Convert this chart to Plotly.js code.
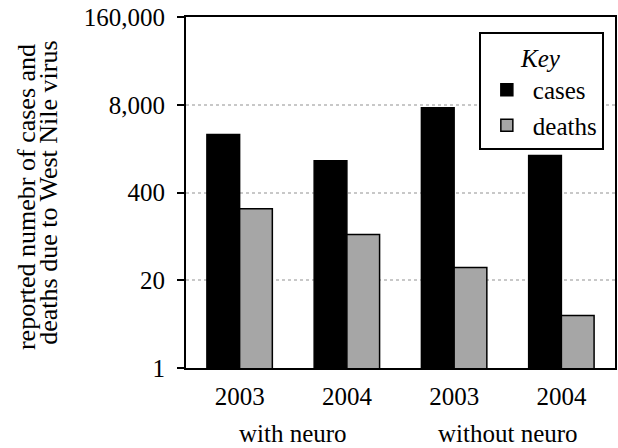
<!DOCTYPE html>
<html>
<head>
<meta charset="utf-8">
<script src="https://cdn.plot.ly/plotly-3.0.1.min.js"></script>
<style>
html,body{margin:0;padding:0;background:#fff}
#chart{width:618px;height:448px;position:absolute;left:0;top:0}
</style>
</head>
<body>
<div id="chart"></div>
<script>
const groups = ["with neuro", "with neuro", "without neuro", "without neuro"];
const years = ["2003", "2004", "2003", "2004"];
const cases = [2900, 1180, 7200, 1410];
const deaths = [230, 95, 31, 6];
const tickVals = [1, 20, 400, 8000, 160000];
const tickText = ["1", "20", "400", "8,000", "160,000"];
const yTitleLines = ["reported numebr of cases and", "deaths due to West Nile virus"];

const FONT = "Liberation Serif";
const FS = 25;

const idx = years.map((_, i) => i);

const traces = [
  {type: "bar", name: "cases", x: idx, y: cases,
   marker: {color: "#000000", line: {color: "#000000", width: 1.5}}},
  {type: "bar", name: "deaths", x: idx, y: deaths,
   marker: {color: "#a6a6a6", line: {color: "#000000", width: 1.5}}}
];

// group labels centred under their categories
const groupNames = [...new Set(groups)];
const groupAnns = groupNames.map(g => {
  const ii = idx.filter(i => groups[i] === g);
  const cx = ii.reduce((a, b) => a + b, 0) / ii.length;
  return {text: g, xref: "x", yref: "paper", x: cx, y: -0.188,
          showarrow: false, xanchor: "center", yanchor: "middle",
          font: {family: FONT, size: FS, color: "#000"}};
});

const layout = {
  width: 618, height: 448,
  margin: {l: 186, r: 3, t: 17, b: 80},
  paper_bgcolor: "#ffffff", plot_bgcolor: "#ffffff",
  font: {family: FONT, size: FS, color: "#000"},
  barmode: "group", bargap: 0.39, bargroupgap: 0,
  showlegend: true,
  legend: {
    x: 0.974, xanchor: "right", y: 0.956, yanchor: "top",
    bgcolor: "#ffffff", bordercolor: "#000", borderwidth: 2,
    itemwidth: 42,
    font: {family: FONT, size: FS, color: "#000"},
    title: {text: "<i>Key</i>", side: "top center", font: {family: FONT, size: FS, color: "#000"}},
    tracegroupgap: 0
  },
  xaxis: {
    type: "linear", range: [-0.5, years.length - 0.5],
    tickmode: "array", tickvals: idx, ticktext: years,
    showline: true, linecolor: "#000", linewidth: 2, mirror: true,
    ticks: "", showgrid: false, zeroline: false,
    ticklabelstandoff: 5,
    tickfont: {family: FONT, size: FS, color: "#000"}
  },
  yaxis: {
    type: "log", range: [0, Math.log10(160000)],
    tickmode: "array", tickvals: tickVals, ticktext: tickText,
    showline: true, linecolor: "#000", linewidth: 2, mirror: true,
    ticks: "outside", ticklen: 7, tickwidth: 2, tickcolor: "#000",
    ticklabelstandoff: 7,
    showgrid: true, gridcolor: "#c8c8c8", gridwidth: 2, griddash: "dot",
    zeroline: false,
    tickfont: {family: FONT, size: FS, color: "#000"}
  },
  annotations: [
    {text: yTitleLines[0], xref: "paper", yref: "paper", x: -0.373, y: 0.487,
     textangle: -90, showarrow: false, xanchor: "center", yanchor: "middle",
     font: {family: FONT, size: 26, color: "#000"}},
    {text: yTitleLines[1], xref: "paper", yref: "paper", x: -0.321, y: 0.5,
     textangle: -90, showarrow: false, xanchor: "center", yanchor: "middle",
     font: {family: FONT, size: 26, color: "#000"}}
  ].concat(groupAnns)
};

Plotly.newPlot("chart", traces, layout, {displayModeBar: false, staticPlot: true});
</script>
</body>
</html>
